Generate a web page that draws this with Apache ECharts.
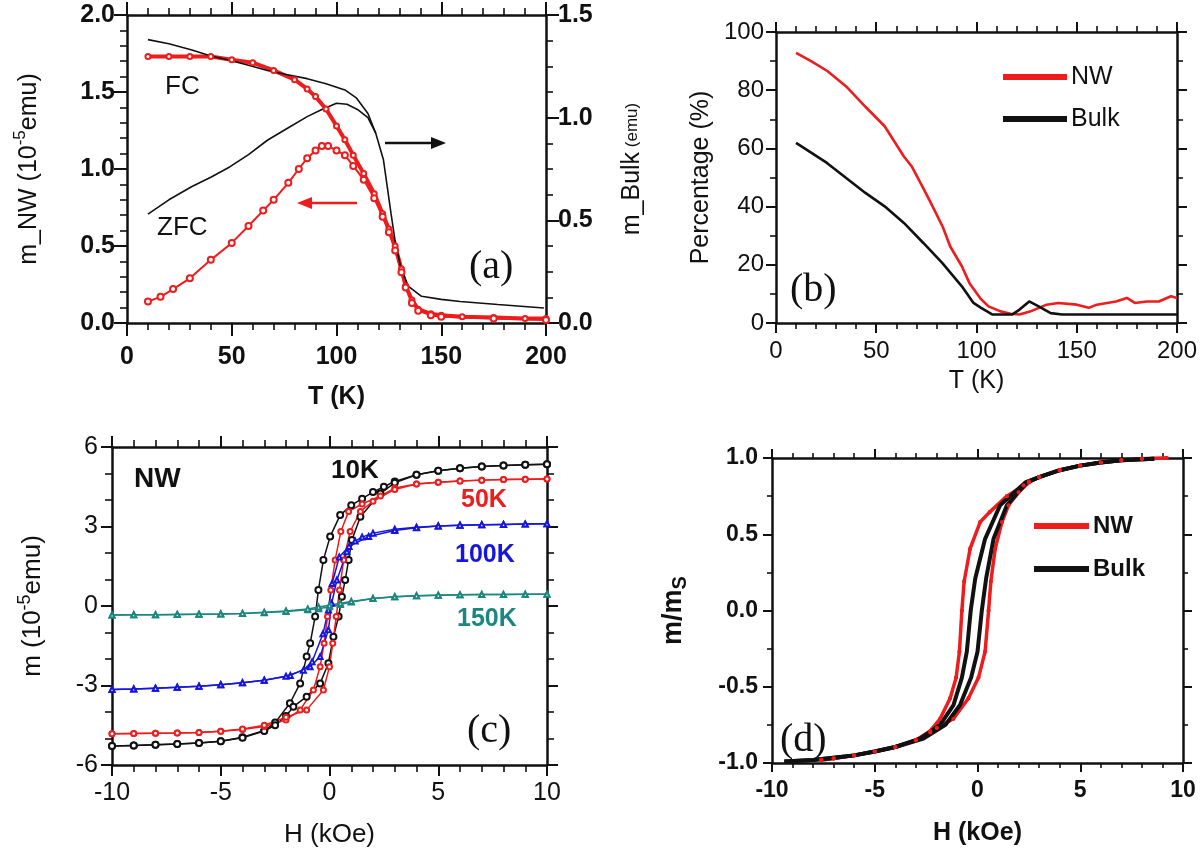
<!DOCTYPE html>
<html><head><meta charset="utf-8">
<script src="https://cdn.jsdelivr.net/npm/echarts@6/dist/echarts.min.js"></script>
<style>html,body{margin:0;padding:0;background:#fff}#c{width:1200px;height:856px}</style>
</head><body><div id="c"></div>
<script>
// ---------- Panel (a): M(T), FC/ZFC ----------
const aFC_NW = [[10,1.73],[20,1.73],[30,1.73],[40,1.73],[50,1.71],[60,1.69],[70,1.64],[80,1.58],[86,1.52],[90,1.47],[95,1.39],[100,1.28],[104,1.19],[108,1.09],[113,0.97],[118,0.84],[122,0.71],[125,0.61],[128,0.50],[131,0.35],[133,0.24],[136,0.15],[139,0.09],[145,0.06],[150,0.05],[160,0.04],[175,0.035],[190,0.03],[200,0.03]];
const aZFC_NW = [[10,0.14],[16,0.17],[22,0.22],[30,0.29],[40,0.41],[50,0.52],[58,0.63],[65,0.73],[70,0.80],[77,0.91],[82,1.0],[86,1.07],[90,1.12],[93,1.15],[96,1.15],[100,1.12],[104,1.09],[108,1.02],[113,0.93],[118,0.81],[122,0.69],[125,0.59],[128,0.47],[131,0.33],[133,0.23],[136,0.13],[139,0.08],[145,0.05],[150,0.04],[175,0.03],[200,0.02]];
const aFC_Bulk = [[10,1.38],[20,1.36],[31,1.33],[40,1.30],[49,1.28],[58,1.255],[67,1.23],[76,1.21],[86,1.19],[95,1.165],[104,1.135],[109.6,1.095],[115,1.02],[118.7,0.925],[122.4,0.795],[124.2,0.665],[126,0.535],[127.9,0.405],[130.6,0.275],[134.2,0.18],[140.6,0.13],[150,0.115],[159,0.105],[177,0.09],[199,0.073]];
const aZFC_Bulk = [[10,0.53],[20,0.6],[31,0.665],[40,0.71],[49,0.76],[58,0.82],[67,0.89],[76,0.945],[86,1.005],[93,1.04],[100,1.07],[105,1.065],[110,1.04],[115,1.0],[118.7,0.925]];
// ---------- Panel (b): Percentage vs T ----------
const bNW = [[10,92.8],[17.7,89.9],[25.6,86.6],[35,81.3],[44.6,74.3],[54.2,67.6],[63.7,57.3],[67.7,53.8],[73.7,46],[77.3,41.2],[83.2,33],[86.9,26.3],[92.7,19.5],[96.5,13.7],[102,8.4],[106,5.7],[112,4.0],[117,3.2],[121.5,2.9],[127,4],[135,6.3],[140.8,6.9],[150,6.3],[156,5.2],[160,6.3],[169.6,7.4],[175,8.6],[179,6.9],[185,7.4],[191,7.4],[197,9.2],[200,8.6]];
const bBulk = [[10,61.9],[25.4,55],[44.6,44.7],[54.2,40.1],[63.8,34.4],[73.5,27.5],[83,20.6],[92.7,12.6],[98.5,6.9],[102.3,5.2],[108,2.9],[117.7,2.9],[121.5,4.6],[126.3,7.4],[131,5.7],[137,3.4],[142.7,2.9],[160,2.9],[200,2.9]];
// ---------- Panel (c): NW loops ----------
const c10K_down = [[10,5.35],[9,5.33],[8,5.3],[7,5.26],[6,5.2],[5,5.1],[4,4.95],[3,4.7],[2.5,4.5],[2,4.3],[1.5,4.05],[1,3.8],[0.49,3.43],[0.03,2.62],[-0.28,1.74],[-0.51,0.6],[-0.66,-0.4],[-0.89,-1.41],[-1.05,-1.91],[-1.35,-2.92],[-1.82,-3.67],[-2.5,-4.4],[-3,-4.7],[-4,-4.95],[-5,-5.1],[-6,-5.17],[-7,-5.21],[-8,-5.24],[-9,-5.26],[-10,-5.28]];
const c10K_up = [[-10,-5.28],[-9,-5.26],[-8,-5.24],[-7,-5.21],[-6,-5.17],[-5,-5.1],[-4,-4.97],[-3,-4.72],[-2.5,-4.5],[-2,-4.15],[-1.66,-3.8],[-1.05,-3.42],[-0.43,-2.92],[-0.05,-2.16],[0.18,-1.16],[0.42,-0.4],[0.57,0.35],[0.72,0.98],[0.88,1.74],[1.03,2.49],[1.42,3.37],[2.34,4.25],[3,4.65],[4,4.95],[5,5.1],[6,5.2],[7,5.26],[8,5.3],[9,5.33],[10,5.35]];
const c50K_down = [[10,4.79],[9,4.78],[8,4.77],[7,4.75],[6,4.72],[5,4.67],[4,4.6],[3,4.45],[2.34,4.15],[1.5,3.85],[0.88,3.57],[0.52,2.81],[0.26,1.74],[0.06,0.6],[-0.09,-0.4],[-0.25,-1.41],[-0.43,-2.29],[-0.74,-3.17],[-1.35,-3.92],[-2,-4.3],[-3,-4.55],[-4,-4.66],[-5,-4.73],[-6,-4.77],[-7,-4.79],[-8,-4.8],[-9,-4.81],[-10,-4.82]];
const c50K_up = [[-10,-4.82],[-9,-4.81],[-8,-4.8],[-7,-4.79],[-6,-4.77],[-5,-4.73],[-4,-4.64],[-3,-4.5],[-2,-4.2],[-1.05,-3.92],[-0.28,-3.17],[0,-2.29],[0.15,-1.41],[0.31,-0.4],[0.46,0.6],[0.65,1.74],[0.95,2.81],[1.42,3.57],[2,3.95],[3,4.4],[4,4.6],[5,4.67],[6,4.72],[7,4.75],[8,4.77],[9,4.78],[10,4.79]];
const c100K_down = [[10,3.1],[9,3.09],[8,3.08],[7,3.07],[6,3.05],[5,3.02],[4,2.97],[3,2.9],[2,2.75],[1.5,2.6],[1.18,2.45],[0.8,2.05],[0.34,0.98],[0.1,0.1],[-0.05,-0.9],[-0.43,-1.91],[-0.89,-2.29],[-1.8,-2.62],[-3,-2.8],[-4,-2.9],[-5,-2.97],[-6,-3.03],[-7,-3.07],[-8,-3.1],[-9,-3.13],[-10,-3.15]];
const c100K_up = [[-10,-3.15],[-9,-3.13],[-8,-3.1],[-7,-3.07],[-6,-3.03],[-5,-2.97],[-4,-2.9],[-3,-2.8],[-2,-2.65],[-1.2,-2.42],[-0.8,-2.1],[-0.3,-1.05],[-0.05,-0.15],[0.12,0.85],[0.45,1.85],[0.9,2.25],[1.8,2.62],[3,2.85],[4,2.95],[5,3.02],[6,3.05],[7,3.07],[8,3.08],[9,3.09],[10,3.1]];
const c150K_down = [[10,0.44],[9,0.44],[8,0.43],[7,0.43],[6,0.42],[5,0.41],[4,0.39],[3,0.35],[2,0.28],[1,0.15],[0.5,0.06],[0,-0.03],[-0.5,-0.1],[-1,-0.14],[-2,-0.21],[-3,-0.25],[-4,-0.28],[-5,-0.3],[-6,-0.31],[-7,-0.32],[-8,-0.33],[-9,-0.33],[-10,-0.34]];
const c150K_up = [[-10,-0.34],[-9,-0.33],[-8,-0.33],[-7,-0.32],[-6,-0.31],[-5,-0.3],[-4,-0.28],[-3,-0.24],[-2,-0.19],[-1,-0.11],[-0.5,-0.04],[0,0.03],[0.5,0.1],[1,0.17],[2,0.28],[3,0.35],[4,0.39],[5,0.41],[6,0.42],[7,0.43],[8,0.43],[9,0.44],[10,0.44]];
// ---------- Panel (d): normalized loops ----------
const dNW_down = [[9.2,1.0],[8,0.995],[7,0.985],[6,0.97],[5,0.95],[4,0.92],[3,0.875],[2.5,0.845],[2.24,0.82],[1.43,0.75],[0.59,0.645],[0.13,0.58],[-0.36,0.405],[-0.65,0.19],[-0.76,0.0],[-0.88,-0.27],[-1.04,-0.44],[-1.33,-0.575],[-1.82,-0.71],[-2.3,-0.79],[-3,-0.85],[-4,-0.895],[-5,-0.925],[-6,-0.95],[-7,-0.97],[-7.6,-0.98]];
const dNW_up = [[-7.6,-0.98],[-7,-0.97],[-6,-0.95],[-5,-0.925],[-4,-0.895],[-3,-0.85],[-2.3,-0.8],[-1.98,-0.77],[-1.17,-0.71],[-0.44,-0.575],[0.05,-0.44],[0.37,-0.27],[0.54,0.0],[0.65,0.19],[0.86,0.405],[1.19,0.58],[1.51,0.69],[2.0,0.775],[2.5,0.84],[3,0.875],[4,0.92],[5,0.95],[6,0.97],[7,0.985],[8,0.995],[9.2,1.0]];
const dBulk_down = [[8.6,0.995],[7,0.985],[6,0.97],[5,0.95],[4,0.92],[3,0.875],[2.33,0.84],[1.1,0.69],[0.37,0.47],[-0.11,0.21],[-0.33,0.0],[-0.52,-0.27],[-0.76,-0.44],[-1.17,-0.62],[-1.82,-0.75],[-2.8,-0.84],[-4,-0.895],[-5,-0.925],[-6,-0.95],[-7,-0.965],[-8,-0.98],[-9.4,-0.99]];
const dBulk_up = [[-9.4,-0.99],[-8,-0.98],[-7,-0.965],[-6,-0.95],[-5,-0.925],[-4,-0.895],[-2.63,-0.84],[-1.56,-0.75],[-0.85,-0.62],[-0.31,-0.44],[0.0,-0.27],[0.21,0.0],[0.42,0.21],[0.78,0.47],[1.43,0.69],[2.4,0.84],[3,0.875],[4,0.92],[5,0.95],[6,0.97],[7,0.985],[8.6,0.995]];

const legendNames = ['NW','Bulk'];

const RED='#ee1c1c', BLK='#111', BLUE='#1515e0', TEAL='#1b877e';
const F='Arial, "Liberation Sans", sans-serif';
const FN='"Liberation Sans Narrow", "Arial Narrow", Arial, sans-serif';
const FS='"Times New Roman", "Liberation Serif", serif';

const grids=[
 {left:127,top:15,width:419,height:308},
 {left:776,top:32,width:402,height:291},
 {left:112,top:447,width:435,height:318},
 {left:772,top:458,width:411,height:305}
];
function ax(o, tl, ml){
  const lab={show:true,color:'#111',fontFamily:F,fontSize:24,fontWeight:'bold',margin:12};
  const r={type:'value',
    axisLine:{show:true,onZero:false,lineStyle:{color:'#111',width:2.5}},
    axisTick:{show:true,inside:false,length:tl||9,lineStyle:{color:'#111',width:2}},
    splitLine:{show:false},
    nameLocation:'middle'};
  Object.keys(o).forEach(k=>{ if(k!=='axisLabel'&&k!=='minorTick') r[k]=o[k]; });
  r.axisLabel=Object.assign({},lab,o.axisLabel||{});
  r.minorTick=Object.assign({show:true,length:ml||5,lineStyle:{color:'#111',width:1.6}},o.minorTick||{});
  return r;
}
const noLab={show:false};
const xAxes=[
 ax({gridIndex:0,position:'bottom',min:0,max:200,interval:50,minorTick:{splitNumber:5},axisLabel:{margin:22,fontSize:25},
   name:'T (K)',nameGap:62,nameTextStyle:{fontFamily:F,fontSize:25,fontWeight:'bold',color:'#111'}},13,7),
 ax({gridIndex:0,position:'top',min:0,max:200,interval:50,minorTick:{splitNumber:5},axisLabel:noLab},13,7),
 ax({gridIndex:1,position:'bottom',min:0,max:200,interval:50,minorTick:{splitNumber:5},
   axisLabel:{fontFamily:FN,fontWeight:'normal',fontSize:24,margin:16},
   name:'T (K)',nameGap:46,nameTextStyle:{fontFamily:F,fontSize:25,color:'#111'}},10,6),
 ax({gridIndex:1,position:'top',min:0,max:200,interval:50,minorTick:{splitNumber:5},axisLabel:noLab},10,6),
 ax({gridIndex:2,position:'bottom',min:-10,max:10,interval:5,minorTick:{splitNumber:5},axisLabel:{fontSize:25,fontWeight:'normal',margin:16},
   name:'H (kOe)',nameGap:57,nameTextStyle:{fontFamily:F,fontSize:26,color:'#111'}},11,7),
 ax({gridIndex:2,position:'top',min:-10,max:10,interval:5,minorTick:{splitNumber:5},axisLabel:noLab},11,7),
 ax({gridIndex:3,position:'bottom',min:-10,max:10,interval:5,minorTick:{splitNumber:5},axisLabel:{fontSize:23,margin:16},
   name:'H (kOe)',nameGap:58,nameTextStyle:{fontFamily:F,fontSize:25,fontWeight:'bold',color:'#111'}},9,5),
 ax({gridIndex:3,position:'top',min:-10,max:10,interval:5,minorTick:{splitNumber:5},axisLabel:noLab},9,5)
];
const yAxes=[
 ax({gridIndex:0,position:'left',min:0,max:2,interval:0.5,minorTick:{splitNumber:5},axisLabel:{margin:12,fontSize:25,formatter:v=>v.toFixed(1)},
   name:'{n|m_NW (10}{s|-5}{n|emu)}',nameGap:85,nameRotate:90,
   nameTextStyle:{rich:{n:{fontFamily:F,fontSize:25,color:'#111',lineHeight:30,verticalAlign:'bottom'},s:{fontFamily:F,fontSize:17,color:'#111',verticalAlign:'top',lineHeight:30}}}},13,7),
 ax({gridIndex:0,position:'right',min:0,max:1.5,interval:0.5,minorTick:{splitNumber:4},axisLabel:{margin:12,fontSize:25,formatter:v=>v.toFixed(1)},
   name:'{n|m_Bulk}{t| (emu)}',nameGap:74,nameRotate:90,
   nameTextStyle:{rich:{n:{fontFamily:F,fontSize:25,color:'#111'},t:{fontFamily:F,fontSize:17,color:'#111'}}}},13,7),
 ax({gridIndex:1,position:'left',min:0,max:100,interval:20,minorTick:{splitNumber:2},axisLabel:{fontFamily:FN,fontWeight:'normal',fontSize:24,margin:12},
   name:'Percentage (%)',nameGap:62,nameRotate:90,nameTextStyle:{fontFamily:F,fontSize:25,color:'#111'}},10,6),
 ax({gridIndex:1,position:'right',min:0,max:100,interval:20,minorTick:{splitNumber:2},axisLabel:noLab},10,6),
 ax({gridIndex:2,position:'left',min:-6,max:6,interval:3,minorTick:{splitNumber:3},axisLabel:{fontSize:25,fontWeight:'normal',margin:14},
   name:'{n|m (10}{s|-5}{n|emu)}',nameGap:66,nameRotate:90,
   nameTextStyle:{rich:{n:{fontFamily:F,fontSize:26,color:'#111',lineHeight:30,verticalAlign:'bottom'},s:{fontFamily:F,fontSize:18,color:'#111',verticalAlign:'top',lineHeight:30}}}},11,7),
 ax({gridIndex:2,position:'right',min:-6,max:6,interval:3,minorTick:{splitNumber:3},axisLabel:noLab},11,7),
 ax({gridIndex:3,position:'left',min:-1,max:1,interval:0.5,minorTick:{splitNumber:2},axisLabel:{fontSize:23,margin:14,formatter:v=>v.toFixed(1)},
   name:'{n|m/m}{s|S}',nameGap:82,nameRotate:90,
   nameTextStyle:{rich:{n:{fontFamily:F,fontSize:27,fontWeight:'bold',color:'#111',lineHeight:30,verticalAlign:'top'},s:{fontFamily:F,fontSize:20,fontWeight:'bold',color:'#111',verticalAlign:'bottom',lineHeight:30}}}},9,5),
 ax({gridIndex:3,position:'right',min:-1,max:1,interval:0.5,minorTick:{splitNumber:2},axisLabel:noLab},9,5)
];

function s(name,data,xi,yi,color,lw,sym,ss){
  return {type:'line',name:name,data:data,xAxisIndex:xi,yAxisIndex:yi,
    showSymbol:!!sym,symbol:sym||'none',symbolSize:ss||4,
    lineStyle:{color:color,width:lw},itemStyle:{color:color,borderColor:color,borderWidth:1.2},
    animation:false,silent:true,z:3};
}
const series=[
 s('FC_NW',aFC_NW,0,0,RED,4,'emptyCircle',5),
 s('ZFC_NW',aZFC_NW,0,0,RED,2,'emptyCircle',6),
 s('FC_Bulk',aFC_Bulk,0,1,BLK,1.6),
 s('ZFC_Bulk',aZFC_Bulk,0,1,BLK,1.6),
 s('NW',bNW,2,2,RED,2.6),
 s('Bulk',bBulk,2,2,BLK,2.6),
 s('10K',c10K_down,4,4,BLK,1.5,'emptyCircle',6),
 s('10K',c10K_up,4,4,BLK,1.5,'emptyCircle',6),
 s('50K',c50K_down,4,4,RED,1.5,'emptyCircle',5),
 s('50K',c50K_up,4,4,RED,1.5,'emptyCircle',5),
 s('100K',c100K_down,4,4,BLUE,1.5,'emptyTriangle',5),
 s('100K',c100K_up,4,4,BLUE,1.5,'emptyTriangle',5),
 s('150K',c150K_down,4,4,TEAL,1.5,'emptyTriangle',5),
 s('150K',c150K_up,4,4,TEAL,1.5,'emptyTriangle',5),
 s('NW',dNW_down,6,6,RED,3.5,'circle',3),
 s('NW',dNW_up,6,6,RED,3.5,'circle',3),
 s('Bulk',dBulk_down,6,6,BLK,4),
 s('Bulk',dBulk_up,6,6,BLK,4)
];

function txt(t,x,y,font,color,align){
  return {type:'text',x:x,y:y,z:10,style:{text:t,font:font,fill:color||'#111',textAlign:align||'left',textVerticalAlign:'middle'}};
}
const graphics=[
 txt('FC',165,87,'26px '+F),
 txt('ZFC',157,228,'26px '+F),
 txt('(a)',469,267,'40px '+FS),
 {type:'line',z:10,shape:{x1:385,y1:143,x2:433,y2:143},style:{stroke:BLK,lineWidth:2.5}},
 {type:'polygon',z:10,shape:{points:[[431,137],[446,143],[431,149]]},style:{fill:BLK}},
 {type:'line',z:10,shape:{x1:357,y1:203,x2:310,y2:203},style:{stroke:RED,lineWidth:2.5}},
 {type:'polygon',z:10,shape:{points:[[312,197],[297,203],[312,209]]},style:{fill:RED}},
 txt('(b)',790,290,'40px '+FS),
 txt('NW',134,479,'bold 28px '+F),
 txt('10K',331,471,'bold 26px '+F),
 txt('50K',461,500,'bold 25px '+F,RED),
 txt('100K',455,555,'bold 25px '+F,BLUE),
 txt('150K',457,619,'bold 25px '+F,TEAL),
 txt('(c)',467,731,'40px '+FS),
 txt('(d)',780,740,'40px '+FS)
];

const chart=echarts.init(document.getElementById('c'),null,{renderer:'canvas'});
chart.setOption({
  animation:false,backgroundColor:'#fff',
  grid:grids,xAxis:xAxes,yAxis:yAxes,series:series,graphic:graphics,
  legend:[
    {data:legendNames,orient:'vertical',left:998,top:58,itemWidth:62,itemHeight:4,itemGap:14,icon:'rect',
     textStyle:{fontFamily:F,fontSize:25,color:'#111',lineHeight:28}, selectedMode:false},
    {data:legendNames,orient:'vertical',left:1029,top:507,itemWidth:53,itemHeight:4,itemGap:15,icon:'rect',
     textStyle:{fontFamily:F,fontSize:24,fontWeight:'bold',color:'#111',lineHeight:28}, selectedMode:false}
  ]
});
</script></body></html>
